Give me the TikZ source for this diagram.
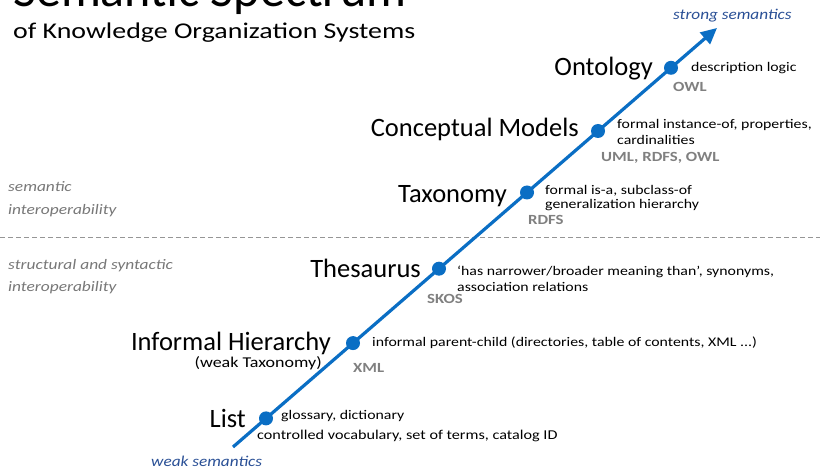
\documentclass[tikz,border=0pt]{standalone}
\usepackage{fontspec}
\setmainfont{Carlito}
\newfontfamily\widefont{Carlito}[FakeStretch=1.2]
\newfontfamily\headfont{Carlito}[FakeStretch=1.24]
\newfontfamily\polefont{Carlito}[FakeStretch=1.15]
\usetikzlibrary{arrows.meta}
\definecolor{spine}{RGB}{10,110,196}
\definecolor{poleblue}{RGB}{42,80,150}
\definecolor{stdgray}{RGB}{128,128,128}
\definecolor{sidegray}{RGB}{120,120,120}
\definecolor{dashgray}{RGB}{150,150,150}

\begin{document}
\begin{tikzpicture}[x=1pt,y=-1pt,
  kos/.style={font=\fontsize{26.5}{28}\selectfont, inner sep=0pt, anchor=base east},
  sub/.style={font=\widefont\fontsize{15}{17}\selectfont, inner sep=0pt, anchor=base east},
  desc/.style={font=\widefont\fontsize{13.2}{15}\selectfont, inner sep=0pt, anchor=base west},
  std/.style={font=\widefont\fontsize{14}{16}\selectfont\bfseries, text=stdgray, inner sep=0pt, anchor=base west},
  side/.style={font=\widefont\fontsize{14.5}{16}\selectfont\itshape, text=sidegray, inner sep=0pt, anchor=base west},
  pole/.style={font=\polefont\fontsize{15}{16}\selectfont\itshape, text=poleblue, inner sep=0pt, anchor=base west},
  kdot/.style={circle, fill=spine, inner sep=0pt, minimum size=14pt},
]
\useasboundingbox (0,0) rectangle (820,470);
\fill[white] (0,0) rectangle (820,470);

% heading (the first line runs off the top edge)
\node[anchor=base west, inner sep=0pt, font=\fontsize{50}{52}\selectfont] (title) at (13,7) {Semantic Spectrum};
\node[anchor=base west, inner sep=0pt, font=\headfont\fontsize{22.5}{24}\selectfont] (subtitle) at (13,39) {of Knowledge Organization Systems};

% boundary between the two kinds of interoperability
\coordinate (dl) at (0,237.5);
\coordinate (dr) at (820,237.5);
\draw[dashgray, line width=1.1pt, dash pattern=on 5pt off 3pt] (dl) -- (dr);
\node[side] (sem1) at (8,192) {semantic};
\node[side] (sem2) at (8,215) {interoperability};
\node[side] (str1) at (8,270) {structural and syntactic};
\node[side] (str2) at (8,292) {interoperability};

% the spectrum axis
\coordinate (s) at (233,447);
\coordinate (e) at (717,28);
\draw[spine, line width=3.2pt, -{Triangle[length=16pt,width=15pt]}] (s) -- (e);
\node[pole] (weak) at (151,466.5) {weak semantics};
\node[pole] (strong) at (673,20) {strong semantics};

% systems along the axis
\node[kdot] (list) at (266,418.4) {};
\node[kdot] (inf) at (353,343.1) {};
\node[kdot] (thes) at (439,268.7) {};
\node[kdot] (tax) at (527,192.5) {};
\node[kdot] (cm) at (598,131) {};
\node[kdot] (onto) at (671,67.8) {};

% List
\node[kos] (listl) at (246,428) {List};
\node[desc] (listd1) at (281,420) {glossary, dictionary};
\node[desc, font=\widefont\fontsize{13.5}{15}\selectfont] (listd2) at (257,440) {controlled vocabulary, set of terms, catalog ID};

% Informal Hierarchy
\node[kos] (infl) at (331,351) {Informal Hierarchy};
\node[sub] (infs) at (322,368) {(weak Taxonomy)};
\node[desc] (infd) at (372,347) {informal parent-child (directories, table of contents, XML ...)};
\node[std] (infc) at (353,373) {XML};

% Thesaurus
\node[kos] (thesl) at (421,278) {Thesaurus};
\node[desc] (thesd1) at (457,276) {‘has narrower/broader meaning than’, synonyms,};
\node[desc] (thesd2) at (457,292) {association relations};
\node[std] (thesc) at (427,304) {SKOS};

% Taxonomy
\node[kos] (taxl) at (507,203) {Taxonomy};
\node[desc] (taxd1) at (545,195) {formal is-a, subclass-of};
\node[desc] (taxd2) at (545,209) {generalization hierarchy};
\node[std] (taxc) at (528,225) {RDFS};

% Conceptual Models
\node[kos] (cml) at (579,137) {Conceptual Models};
\node[desc] (cmd1) at (617,129) {formal instance-of, properties,};
\node[desc] (cmd2) at (617,145) {cardinalities};
\node[std] (cmc) at (601,162) {UML, RDFS, OWL};

% Ontology
\node[kos] (ontol) at (653,76) {Ontology};
\node[desc] (ontod) at (691,72) {description logic};
\node[std] (ontoc) at (673,92) {OWL};
\end{tikzpicture}
\end{document}
